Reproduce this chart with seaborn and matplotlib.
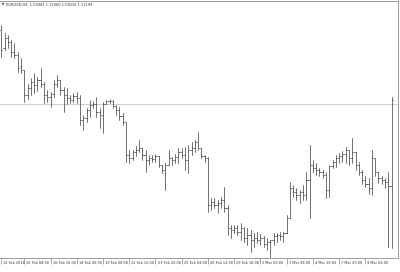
import matplotlib
matplotlib.use("Agg")
import matplotlib.pyplot as plt
from matplotlib.transforms import ScaledTranslation
import seaborn as sns
import pandas as pd

symbol_title = "EURUSD,H4  1.09481 1.11060 1.08232 1.11199"

opens = [1.1260,1.1224,1.1244,1.1236,1.1216,1.1210,1.1188,1.1180,1.1130,1.1144,
         1.1156,1.1150,1.1160,1.1152,1.1130,1.1126,1.1132,1.1152,1.1160,1.1140,
         1.1130,1.1124,1.1120,1.1128,1.1124,1.1080,1.1084,1.1100,1.1110,1.1112,
         1.1096,1.1090,1.1112,1.1118,1.1118,1.1108,1.1100,1.1088,1.1076,1.1010,
         1.1004,1.1016,1.1020,1.1024,1.1010,1.1000,1.1004,1.1002,1.1008,1.0990,
         1.0980,1.0990,1.1004,1.1000,1.1006,1.1016,1.1010,1.1000,1.1020,1.1024,
         1.1036,1.1024,1.1008,1.1004,1.0910,1.0916,1.0910,1.0914,1.0920,1.0904,
         1.0864,1.0860,1.0864,1.0856,1.0864,1.0844,1.0850,1.0840,1.0844,1.0840,
         1.0844,1.0832,1.0836,1.0840,1.0848,1.0850,1.0848,1.0854,1.0884,1.0944,
         1.0936,1.0930,1.0936,1.0930,1.0960,1.0990,1.0984,1.0980,1.0976,1.0970,
         1.0940,1.0988,1.0996,1.1004,1.1008,1.1012,1.1020,1.1004,1.1016,1.0990,
         1.0976,1.0960,1.0952,1.0944,1.1004,1.0976,1.0964,1.0960,1.0956,1.09481]
highs = [1.1270,1.1254,1.1250,1.1240,1.1234,1.1216,1.1204,1.1180,1.1152,1.1164,
         1.1174,1.1166,1.1184,1.1156,1.1140,1.1136,1.1160,1.1170,1.1160,1.1146,
         1.1144,1.1130,1.1134,1.1136,1.1130,1.1090,1.1104,1.1120,1.1118,1.1126,
         1.1104,1.1116,1.1120,1.1122,1.1120,1.1110,1.1106,1.1094,1.1076,1.1020,
         1.1020,1.1028,1.1040,1.1024,1.1020,1.1010,1.1010,1.1012,1.1008,1.0990,
         1.0994,1.1020,1.1006,1.1012,1.1024,1.1024,1.1026,1.1030,1.1036,1.1040,
         1.1056,1.1024,1.1010,1.1006,1.0924,1.0924,1.0920,1.0926,1.0946,1.0910,
         1.0870,1.0870,1.0870,1.0874,1.0866,1.0864,1.0860,1.0854,1.0856,1.0852,
         1.0848,1.0844,1.0840,1.0854,1.0854,1.0856,1.0856,1.0890,1.0956,1.0950,
         1.0944,1.0940,1.0950,1.0976,1.1030,1.1000,1.0994,1.0984,1.0980,1.0976,
         1.0990,1.1000,1.1010,1.1014,1.1018,1.1026,1.1020,1.1044,1.1016,1.0996,
         1.0980,1.0968,1.0964,1.1020,1.1004,1.0976,1.0968,1.0964,1.0976,1.1126]
lows = [1.1206,1.1220,1.1224,1.1206,1.1204,1.1176,1.1174,1.1116,1.1122,1.1130,
        1.1134,1.1138,1.1146,1.1114,1.1116,1.1106,1.1126,1.1146,1.1130,1.1096,
        1.1112,1.1114,1.1116,1.1114,1.1070,1.1060,1.1076,1.1086,1.1104,1.1086,
        1.1064,1.1054,1.1112,1.1114,1.1104,1.1090,1.1080,1.1070,1.0996,1.0994,
        1.1000,1.1008,1.1016,1.1000,1.0976,1.0990,1.0996,1.0996,1.0986,1.0974,
        1.0940,1.0990,1.0990,1.0994,1.0994,1.1004,1.0980,1.0974,1.1010,1.1016,
        1.1020,1.1004,1.0996,1.0896,1.0900,1.0904,1.0894,1.0904,1.0896,1.0850,
        1.0844,1.0854,1.0850,1.0840,1.0836,1.0830,1.0816,1.0826,1.0834,1.0830,
        1.0826,1.0820,1.0806,1.0830,1.0836,1.0840,1.0836,1.0854,1.0884,1.0926,
        1.0920,1.0914,1.0920,1.0920,1.0884,1.0976,1.0970,1.0968,1.0964,1.0924,
        1.0926,1.0984,1.0986,1.0994,1.0996,1.0994,1.0990,1.0994,1.0980,1.0970,
        1.0952,1.0946,1.0932,1.0930,1.0968,1.0954,1.0952,1.0944,1.0826,1.08232]
closes = [1.1220,1.1244,1.1236,1.1216,1.1210,1.1184,1.1180,1.1130,1.1144,1.1156,
          1.1150,1.1160,1.1152,1.1130,1.1126,1.1132,1.1152,1.1160,1.1140,1.1130,
          1.1124,1.1120,1.1128,1.1124,1.1080,1.1084,1.1100,1.1110,1.1112,1.1096,
          1.1090,1.1112,1.1118,1.1118,1.1108,1.1100,1.1088,1.1076,1.1010,1.1004,
          1.1016,1.1020,1.1024,1.1010,1.1000,1.1004,1.1002,1.1008,1.0990,1.0980,
          1.0990,1.1004,1.1000,1.1006,1.1016,1.1010,1.1000,1.1020,1.1024,1.1036,
          1.1024,1.1008,1.1004,1.0910,1.0916,1.0910,1.0914,1.0920,1.0904,1.0864,
          1.0860,1.0864,1.0856,1.0864,1.0844,1.0850,1.0840,1.0844,1.0840,1.0844,
          1.0832,1.0836,1.0840,1.0848,1.0850,1.0848,1.0854,1.0884,1.0944,1.0936,
          1.0930,1.0936,1.0930,1.0960,1.0990,1.0984,1.0980,1.0976,1.0970,1.0940,
          1.0988,1.0996,1.1004,1.1008,1.1012,1.1020,1.1004,1.1016,1.0990,1.0976,
          1.0960,1.0952,1.0944,1.1004,1.0976,1.0964,1.0960,1.0956,1.0948,1.11199]
bid_line = 1.1112

time_labels = ["12 Feb 2016", "15 Feb 08:00", "16 Feb 16:00", "18 Feb 00:00",
               "19 Feb 08:00", "22 Feb 12:00", "23 Feb 20:00", "25 Feb 04:00",
               "26 Feb 12:00", "29 Feb 16:00", "2 Mar 00:00", "3 Mar 08:00",
               "4 Mar 16:00", "7 Mar 20:00", "9 Mar 04:00"]
label_bars = [1, 8, 16, 24, 32, 40, 48, 56, 64, 72, 80, 88, 96, 104, 112]

# long table of segments for seaborn
rows = []
half = 0.36
for i, (o, h, l, c) in enumerate(zip(opens, highs, lows, closes)):
    x = i + 1
    rows += [(x, l, f"{x}hl"), (x, h, f"{x}hl"),
             (x - half, o, f"{x}o"), (x, o, f"{x}o"),
             (x, c, f"{x}c"), (x + half, c, f"{x}c")]
df = pd.DataFrame(rows, columns=["bar", "price", "seg"])

sns.set_theme(style="white")
plt.rcParams["font.family"] = ["DejaVu Sans"]

fig = plt.figure(figsize=(4.0, 2.72), dpi=100)
ax = fig.add_axes([0.0, 14 / 272, 398 / 400, 1 - 14 / 272 - 0.5 / 272])

sns.lineplot(data=df, x="bar", y="price", units="seg", estimator=None,
             sort=False, color="#4a4a4a", linewidth=0.55, legend=False, ax=ax)

ax.axhline(bid_line, color="#c8c8c8", linewidth=0.6, zorder=0)

ax.set_xlim(0.6, 121.95)
ax.set_ylim(1.0804, 1.1320)
ax.set_xlabel("")
ax.set_ylabel("")
ax.set_yticks([])
ax.set_xticks(label_bars)
ax.set_xticklabels(time_labels, fontsize=2.5, color="#333333")
ax.tick_params(axis="x", direction="out", length=4, width=0.5,
               color="#888888", pad=-2.2, bottom=True)
offset = ScaledTranslation(1.5 / 72, 0, fig.dpi_scale_trans)
for lab in ax.get_xticklabels():
    lab.set_horizontalalignment("left")
    lab.set_transform(lab.get_transform() + offset)

for side in ["top", "right", "bottom"]:
    ax.spines[side].set_visible(True)
    ax.spines[side].set_color("#8a8a8a")
    ax.spines[side].set_linewidth(0.6)
ax.spines["left"].set_visible(False)

fig.text(1.5 / 400, 1 - 5 / 272, "\u25BC", fontsize=2.2, color="#222222",
         va="center", ha="left")
fig.text(6 / 400, 1 - 5 / 272, symbol_title, fontsize=2.6, color="#333333",
         va="center", ha="left")

fig.savefig("out.png", dpi=100)
